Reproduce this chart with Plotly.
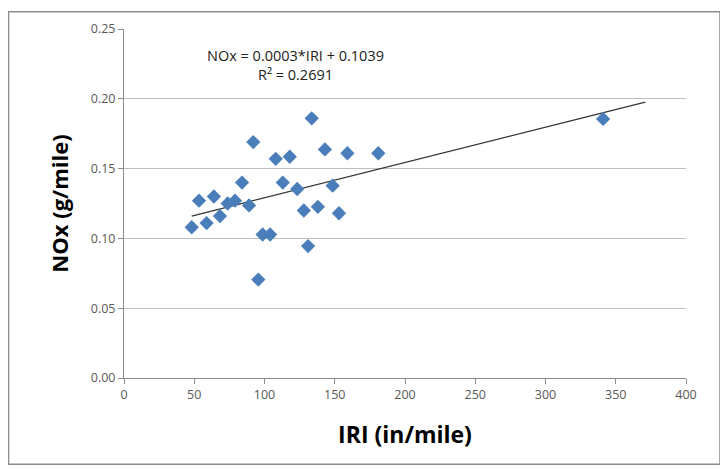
import numpy as np
import plotly.graph_objects as go

iri = [48.2, 53.4, 58.8, 64.0, 68.3, 73.8, 79.0, 84.0, 89.0, 92.0, 95.6, 98.7, 104.0,
       108.0, 113.0, 118.0, 123.3, 128.0, 133.6, 131.0, 138.0, 143.0, 148.5, 153.0,
       159.0, 181.0, 341.0]
nox = [0.108, 0.127, 0.111, 0.130, 0.116, 0.125, 0.127, 0.140, 0.1236, 0.169, 0.0705,
       0.1028, 0.1028, 0.157, 0.140, 0.1585, 0.1354, 0.120, 0.186, 0.0945, 0.1226,
       0.1637, 0.1378, 0.118, 0.161, 0.161, 0.1856]

x_ticks = [0, 50, 100, 150, 200, 250, 300, 350, 400]
y_ticks = [0.00, 0.05, 0.10, 0.15, 0.20, 0.25]
eq_text = "NOx = 0.0003*IRI + 0.1039<br>R² = 0.2691"
forecast_forward = 30

slope, intercept = np.polyfit(iri, nox, 1)
tx = np.array([min(iri), max(iri) + forecast_forward])
ty = slope * tx + intercept

fig = go.Figure()
fig.add_trace(go.Scatter(x=tx, y=ty, mode="lines",
                         line=dict(color="#333333", width=1.2), hoverinfo="skip"))
fig.add_trace(go.Scatter(x=iri, y=nox, mode="markers",
                         marker=dict(symbol="diamond", size=11, color="#4A7EBB",
                                     line=dict(width=0))))

fam = "Open Sans, Liberation Sans, sans-serif"
axis_font = dict(family=fam, size=12.5, color="#595959")
fig.update_layout(
    width=720, height=461,
    margin=dict(l=116, r=42, t=18, b=91),
    paper_bgcolor="white", plot_bgcolor="white",
    showlegend=False,
    xaxis=dict(range=[0, 400], tickvals=x_ticks, showgrid=False, zeroline=False,
               showline=True, linecolor="#8c8c8c", linewidth=1,
               ticks="outside", ticklen=5, tickcolor="#8c8c8c",
               tickfont=axis_font,
               title=dict(text="<b>IRI (in/mile)</b>", standoff=24,
                          font=dict(family=fam, size=23, color="black"))),
    yaxis=dict(range=[0, 0.25], tickvals=y_ticks, tickformat=".2f",
               showgrid=True, gridcolor="#bfbfbf", gridwidth=1, zeroline=False,
               showline=True, linecolor="#8c8c8c", linewidth=1,
               ticks="outside", ticklen=5, tickcolor="#8c8c8c",
               tickfont=axis_font,
               title=dict(text="<b>NOx (g/mile)</b>", standoff=16,
                          font=dict(family=fam, size=22, color="black"))),
    annotations=[dict(x=0.305, y=0.897, xref="paper", yref="paper", text=eq_text,
                      xanchor="center", yanchor="middle",
                      showarrow=False, align="center",
                      font=dict(family=fam, size=14.5, color="#222222"))],
    shapes=[dict(type="rect", xref="paper", yref="paper",
                 x0=-0.2055, x1=1.0605, y0=-0.2472, y1=1.0497,
                 line=dict(color="#8c8c8c", width=1.5), fillcolor="rgba(0,0,0,0)")],
)

fig.write_html("out.html")
